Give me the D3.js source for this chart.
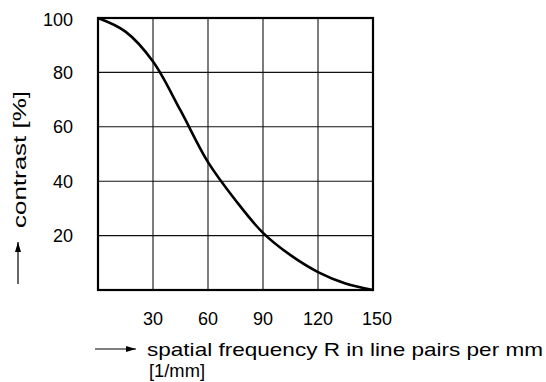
<!DOCTYPE html>
<html>
<head>
<meta charset="utf-8">
<script src="https://cdn.jsdelivr.net/npm/d3@7"></script>
<style>
  body { margin: 0; background: #fff; }
  text { font-family: "Liberation Sans", Arial, sans-serif; fill: #000; }
</style>
</head>
<body>
<div id="chart"></div>
<script>
// data
const frequence = [0, 15, 30, 45, 60, 75, 90, 105, 120, 135, 150];
const contraste = [100, 95, 84, 66, 47, 33, 21, 12.8, 6.6, 2.4, 0];
const ticksX = [30, 60, 90, 120, 150];
const ticksY = [20, 40, 60, 80, 100];

const largeur = 546, hauteur = 382;
const margin = { top: 18, right: 173, bottom: 92, left: 98 },
    width = largeur - margin.left - margin.right,
    height = hauteur - margin.top - margin.bottom;

const root = d3.select('#chart')
    .append("svg")
    .attr("width", largeur)
    .attr("height", hauteur);

const svg = root.append("g")
    .attr("transform", "translate(" + margin.left + "," + margin.top + ")");

// echelles
const x = d3.scaleLinear().domain([0, 150]).range([0, width]);
const y = d3.scaleLinear().domain([0, 100]).range([height, 0]);

// grille
svg.append("g")
    .selectAll("line")
    .data(ticksX)
    .join("line")
    .attr("x1", d => x(d)).attr("x2", d => x(d))
    .attr("y1", 0).attr("y2", height)
    .attr("stroke", "#111").attr("stroke-width", 1.1);

svg.append("g")
    .selectAll("line")
    .data(ticksY)
    .join("line")
    .attr("x1", 0).attr("x2", width)
    .attr("y1", d => y(d)).attr("y2", d => y(d))
    .attr("stroke", "#111").attr("stroke-width", 1.1);

// cadre
svg.append("rect")
    .attr("x", 0).attr("y", 0)
    .attr("width", width).attr("height", height)
    .attr("fill", "none")
    .attr("stroke", "#000")
    .attr("stroke-width", 2.2);

// labels des ticks
svg.append("g")
    .selectAll("text")
    .data(ticksX)
    .join("text")
    .attr("x", d => x(d) + (d === 150 ? 4 : 0))
    .attr("y", 307)
    .attr("text-anchor", "middle")
    .style("font-size", "18px")
    .text(d => d);

svg.append("g")
    .selectAll("text")
    .data(ticksY)
    .join("text")
    .attr("x", -25)
    .attr("y", d => y(d) + (d === 100 ? 2 : 0))
    .attr("dy", "0.36em")
    .attr("text-anchor", "end")
    .style("font-size", "18px")
    .text(d => d);

// courbe
const points = frequence.map((f, i) => [f, contraste[i]]);
svg.append("path")
    .datum(points)
    .attr("fill", "none")
    .attr("stroke", "#000")
    .attr("stroke-width", 2.6)
    .attr("d", d3.line()
        .x(d => x(d[0]))
        .y(d => y(d[1]))
        .curve(d3.curveCatmullRom.alpha(0.5)));

// fleches
root.append("defs").append("marker")
    .attr("id", "fleche")
    .attr("viewBox", "0 0 10 6")
    .attr("refX", 10).attr("refY", 3)
    .attr("markerWidth", 10).attr("markerHeight", 6)
    .attr("markerUnits", "userSpaceOnUse")
    .attr("orient", "auto")
    .append("path")
    .attr("d", "M0,0 L10,3 L0,6 Z")
    .attr("fill", "#000");

root.append("line")
    .attr("x1", 95).attr("x2", 136)
    .attr("y1", 349).attr("y2", 349)
    .attr("stroke", "#000").attr("stroke-width", 1.2)
    .attr("marker-end", "url(#fleche)");

root.append("line")
    .attr("x1", 18).attr("x2", 18)
    .attr("y1", 284).attr("y2", 242)
    .attr("stroke", "#000").attr("stroke-width", 1.2)
    .attr("marker-end", "url(#fleche)");

// titres des axes
root.append("text")
    .attr("x", 147).attr("y", 356)
    .style("font-size", "19px")
    .attr("textLength", 396)
    .attr("lengthAdjust", "spacingAndGlyphs")
    .text("spatial frequency R in line pairs per mm");

root.append("text")
    .attr("x", 149).attr("y", 377)
    .style("font-size", "18px")
    .attr("textLength", 56)
    .attr("lengthAdjust", "spacingAndGlyphs")
    .text("[1/mm]");

root.append("text")
    .attr("transform", "translate(26,228) rotate(-90)")
    .style("font-size", "19px")
    .attr("textLength", 137)
    .attr("lengthAdjust", "spacingAndGlyphs")
    .text("contrast [%]");
</script>
</body>
</html>
